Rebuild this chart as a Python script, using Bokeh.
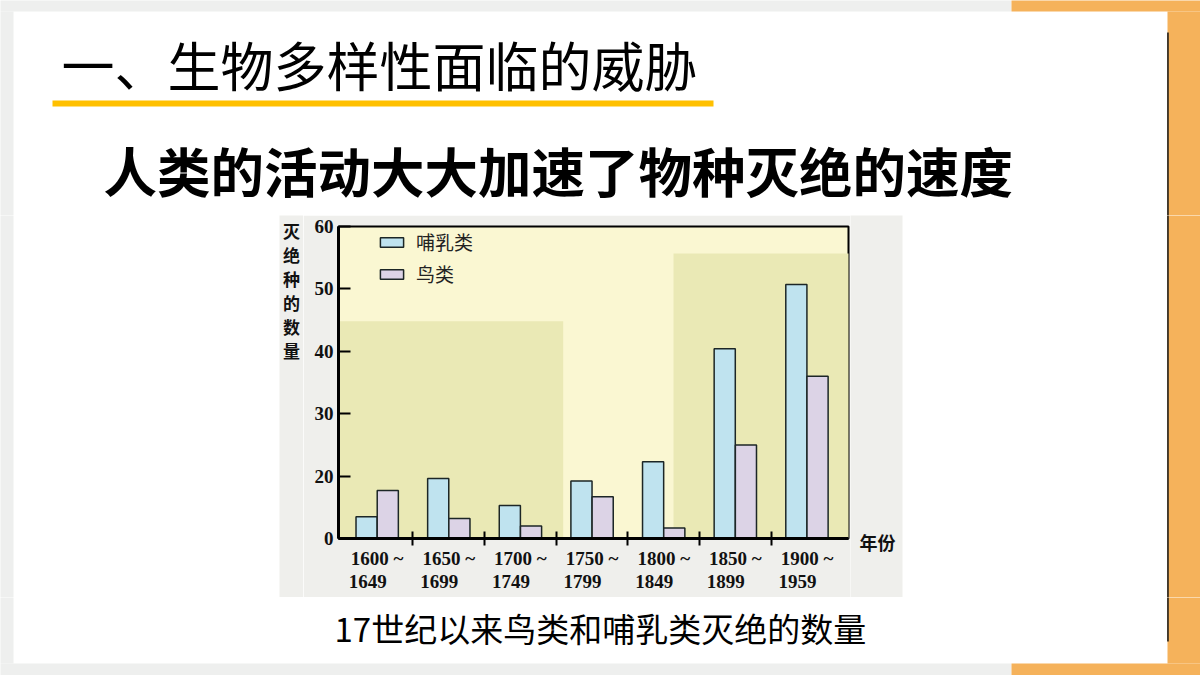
from bokeh.plotting import figure
from bokeh.layouts import column, row
from bokeh.models import (Range1d, FixedTicker, Legend, LegendItem,
                          BoxAnnotation, ColumnDataSource)
from bokeh.core.properties import value
from bokeh.embed import file_html
from bokeh.resources import INLINE

# ---------------- data ----------------
period_start = ["1600 ~", "1650 ~", "1700 ~", "1750 ~", "1800 ~", "1850 ~", "1900 ~"]
period_end = ["1649", "1699", "1749", "1799", "1849", "1899", "1959"]
mammals = [3.5, 9.6, 5.3, 9.2, 12.3, 30.4, 40.7]
birds = [7.7, 3.2, 2.0, 6.7, 1.7, 15.0, 26.0]
series_names = ["哺乳类", "鸟类"]
y_ticks = [0, 10, 20, 30, 40, 50]
y_tick_labels = ["0", "20", "30", "40", "50", "60"]

slide_title = "一、生物多样性面临的威胁"
slide_subtitle = "人类的活动大大加速了物种灭绝的速度"
chart_caption = "17世纪以来鸟类和哺乳类灭绝的数量"
y_title = "灭绝种的数量"
x_title = "年份"

CJK = "Noto Sans CJK SC"
SERIF = "Liberation Serif"
PHOTO = "#efefec"
PAGE = "#eeefee"
ORANGE = "#f5b25b"

# ---------------- layout (page pixels) ----------------
PW, PH = 1200, 675
ROW_TOP, ROW_BOT = 215, 597          # middle band (chart row)
CH_L, CH_R = 303, 850                # chart figure horizontal extent
FL, FR, FT, FB = 338, 848, 226, 538  # plot frame in page px
XS, XE = -0.54, 6.58
YS, YE = 0, 50


def X(px):
    return XS + (px - FL) * (XE - XS) / (FR - FL)


def Y(py):
    return YS + (FB - py) * (YE - YS) / (FB - FT)


def no_align(f):
    if "frame_align" in f.properties():
        f.frame_align = False
    return f


RECTS = [
    (13, 1167, 11, 663, "white"),
    (0, 1011, 0, 11, PAGE),
    (0, 13, 11, 663, PAGE),
    (0, 1011, 663, 675, PAGE),
    (1011, 1200, 0, 11, ORANGE),
    (1167, 1200, 11, 663, ORANGE),
    (1011, 1200, 663, 675, ORANGE),
    (1166.7, 1168.2, 32, 641, "#111111"),
    (279, 902, 215, 597, PHOTO),
    (52, 713, 100, 106, "#ffc000"),
]


def deco(x0, x1, y0, y1, texts):
    f = figure(width=int(x1 - x0), height=int(y1 - y0),
               x_range=Range1d(x0, x1), y_range=Range1d(y1, y0),
               x_axis_location=None, y_axis_location=None,
               output_backend="svg", toolbar_location=None, min_border=0,
               outline_line_color=None, background_fill_color=None,
               border_fill_color=None)
    no_align(f)
    f.grid.visible = False
    for l, r, t, b, c in RECTS:
        if r > x0 and l < x1 and b > y0 and t < y1:
            f.quad(left=[max(l, x0) - (0.5 if l <= x0 else 0)],
                   right=[min(r, x1) + (0.5 if r >= x1 else 0)],
                   top=[max(t, y0) - (0.5 if t <= y0 else 0)],
                   bottom=[min(b, y1) + (0.5 if b >= y1 else 0)],
                   fill_color=c, line_color=None)
    for kw in texts:
        f.text(**kw)
    return f


top_fig = deco(0, PW, 0, ROW_TOP, [
    dict(x=[61], y=[63], text=[slide_title], text_font=value(CJK),
         text_font_size="53px", text_baseline="middle", text_align="left",
         text_color="black"),
    dict(x=[103], y=[169], text=[slide_subtitle], text_font=value(CJK),
         text_font_size="53.5px", text_font_style="bold", text_baseline="middle",
         text_align="left", text_color="black"),
])
left_fig = deco(0, CH_L, ROW_TOP, ROW_BOT, [
    dict(x=[291], y=[289.75], text=["\n".join(y_title)], text_font=value(CJK),
         text_font_size="17px", text_font_style="bold", text_line_height=0.96,
         text_baseline="middle", text_align="center", text_color="#111111"),
])
right_fig = deco(CH_R, PW, ROW_TOP, ROW_BOT, [
    dict(x=[877], y=[541.7], text=[x_title], text_font=value(CJK),
         text_font_size="18px", text_font_style="bold", text_baseline="middle",
         text_align="center", text_color="#111111"),
])
bottom_fig = deco(0, PW, ROW_BOT, PH, [
    dict(x=[334], y=[627], text=[chart_caption], text_font=value(CJK),
         text_font_size="33px", text_baseline="middle", text_align="left",
         text_color="black"),
])

# ---------------- chart ----------------
p = figure(width=CH_R - CH_L, height=ROW_BOT - ROW_TOP,
           x_range=Range1d(XS, XE), y_range=Range1d(YS, YE),
           output_backend="svg", toolbar_location=None,
           min_border_left=FL - CH_L, min_border_right=CH_R - FR,
           min_border_top=FT - ROW_TOP, min_border_bottom=ROW_BOT - FB,
           background_fill_color="#faf7d2", border_fill_color=PHOTO,
           outline_line_color="black", outline_line_width=2)
no_align(p)
p.xgrid.visible = False
p.ygrid.visible = False

for l, r, t in [(X(300), X(562.7), Y(320.7)), (X(673), X(900), Y(253))]:
    p.add_layout(BoxAnnotation(left=l, right=r, top=t, bottom=0, level="underlay",
                               fill_color="#eae9b5", fill_alpha=1,
                               line_color=None, line_alpha=0))

idx = list(range(len(period_start)))
off = 0.148
src = ColumnDataSource(dict(xm=[i - off for i in idx], xb=[i + off for i in idx],
                            m=mammals, b=birds))
rm = p.vbar(x="xm", top="m", bottom=0, width=0.295, source=src,
            fill_color="#bfe3ef", line_color="#1c2626", line_width=1.5)
rb = p.vbar(x="xb", top="b", bottom=0, width=0.295, source=src,
            fill_color="#dcd3e6", line_color="#1c2626", line_width=1.5)

xa = p.xaxis[0]
xa.ticker = FixedTicker(ticks=idx, minor_ticks=[i + 0.5 for i in idx[:-1]])
xa.major_label_overrides = {i: f"{a}\n{b}\u00a0\u00a0\u00a0\u00a0"
                            for i, a, b in zip(idx, period_start, period_end)}
xa.major_tick_in = 0
xa.major_tick_out = 0
xa.minor_tick_in = 7
xa.minor_tick_out = 7
xa.minor_tick_line_width = 2
xa.minor_tick_line_color = "black"
xa.axis_line_width = 3
xa.axis_line_color = "black"
xa.major_label_standoff = 2
xa.major_label_text_font = SERIF
xa.major_label_text_font_size = "19px"
xa.major_label_text_font_style = "bold"
xa.major_label_text_line_height = 1.1
xa.major_label_text_color = "#111111"

ya = p.yaxis[0]
ya.ticker = FixedTicker(ticks=y_ticks)
ya.major_label_overrides = dict(zip(y_ticks, y_tick_labels))
ya.major_tick_in = 12
ya.major_tick_out = 0
ya.major_tick_line_width = 2
ya.major_tick_line_color = "black"
ya.minor_tick_line_color = None
ya.axis_line_width = 3
ya.axis_line_color = "black"
ya.major_label_standoff = 5
ya.major_label_text_font = SERIF
ya.major_label_text_font_size = "19px"
ya.major_label_text_font_style = "bold"
ya.major_label_text_color = "#111111"

legend = Legend(items=[LegendItem(label=series_names[0], renderers=[rm]),
                       LegendItem(label=series_names[1], renderers=[rb])],
                location=(39, 251), orientation="vertical",
                glyph_width=29, glyph_height=12, label_standoff=10, spacing=5,
                padding=0, margin=0, border_line_color=None,
                background_fill_alpha=0, label_height=20,
                label_text_font=CJK, label_text_font_size="19px",
                label_text_color="#222222")
p.add_layout(legend)

page = column(top_fig, row(left_fig, p, right_fig, spacing=0), bottom_fig, spacing=0)
open("out.html", "w").write(file_html(page, INLINE))
